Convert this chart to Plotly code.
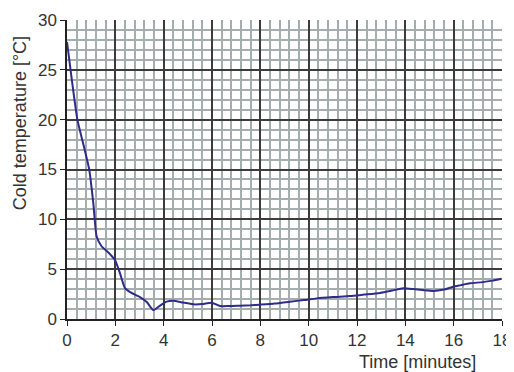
import plotly.graph_objects as go

time_min = [0.0, 0.2, 0.43, 0.7, 0.92, 1.09, 1.23, 1.43, 1.7, 1.99, 2.19, 2.4, 2.61, 3.02, 3.3, 3.57, 3.85, 4.12, 4.4, 4.8, 5.23, 5.6, 5.98, 6.33, 6.7, 7.16, 7.6, 7.98, 8.6, 9.23, 9.8, 10.33, 11.0, 11.7, 12.3, 12.95, 13.45, 13.91, 14.33, 14.7, 15.16, 15.6, 15.98, 16.3, 16.67, 17.2, 17.6, 17.98]
cold_temp = [27.8, 24.0, 20.0, 17.3, 15.0, 11.6, 8.25, 7.3, 6.7, 5.9, 4.6, 3.1, 2.7, 2.2, 1.7, 0.9, 1.35, 1.74, 1.84, 1.65, 1.47, 1.5, 1.64, 1.3, 1.3, 1.34, 1.38, 1.44, 1.55, 1.74, 1.9, 2.07, 2.2, 2.3, 2.45, 2.62, 2.85, 3.08, 3.0, 2.9, 2.8, 2.95, 3.24, 3.4, 3.58, 3.7, 3.85, 4.04]

x_ticks = [0, 2, 4, 6, 8, 10, 12, 14, 16, 18]
y_ticks = [0, 5, 10, 15, 20, 25, 30]

fig = go.Figure()
fig.add_trace(go.Scatter(
    x=time_min, y=cold_temp, mode="lines",
    line=dict(color="#2f2b8a", width=2, shape="spline", smoothing=0.6),
    hoverinfo="skip", showlegend=False,
))

FONT = "Liberation Sans, Arial, sans-serif"
fig.update_layout(
    width=514, height=372,
    margin=dict(l=59, r=20, t=12, b=61),
    paper_bgcolor="white", plot_bgcolor="white",
    font=dict(family=FONT, size=17, color="#333333"),
    annotations=[
        dict(text="Time [minutes]", xref="paper", yref="paper",
             x=0.806, y=-0.143, xanchor="center", yanchor="middle",
             showarrow=False, font=dict(size=18, color="#333333")),
        dict(text="Cold temperature [°C]", xref="paper", yref="paper",
             x=-0.108, y=0.655, xanchor="center", yanchor="middle", textangle=-90,
             showarrow=False, font=dict(size=18, color="#333333")),
    ],
)

fig.update_xaxes(
    range=[0, 18], tickvals=x_ticks, ticktext=[str(v) for v in x_ticks],
    showgrid=True, gridcolor="#3c3c3c", gridwidth=1.5,
    minor=dict(dtick=0.4, showgrid=True, gridcolor="#a6adad", gridwidth=2),
    showline=True, linecolor="#222222", linewidth=1.5,
    ticks="outside", ticklen=5, tickcolor="#222222",
    zeroline=False, automargin=False,
)
fig.update_yaxes(
    range=[0, 30], tickvals=y_ticks, ticktext=[str(v) for v in y_ticks],
    showgrid=True, gridcolor="#3c3c3c", gridwidth=1.5,
    minor=dict(dtick=1, showgrid=True, gridcolor="#a6adad", gridwidth=2),
    showline=True, linecolor="#222222", linewidth=1.5,
    ticks="outside", ticklen=5, tickcolor="#222222",
    zeroline=False, automargin=False,
)

fig.write_html("out.html")
